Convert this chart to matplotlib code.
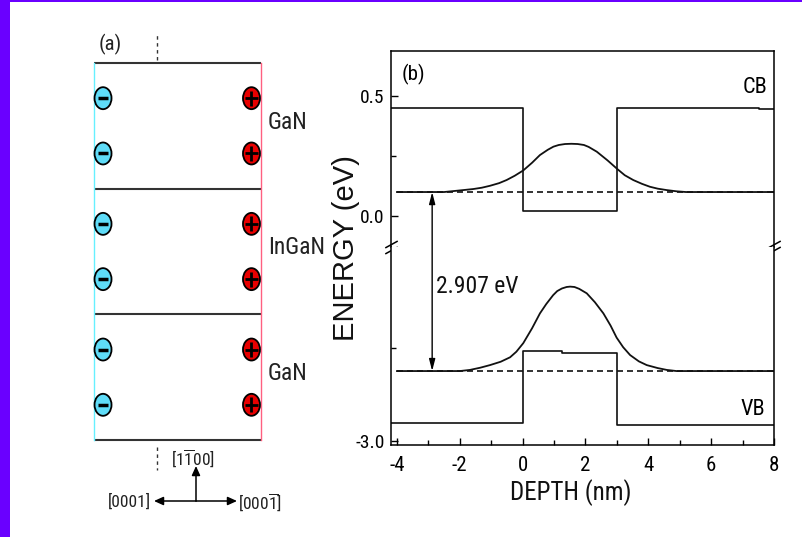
import matplotlib
matplotlib.use('Agg')
import matplotlib.pyplot as plt
from matplotlib.patches import Ellipse, Rectangle, ConnectionPatch, FancyArrowPatch
from matplotlib import font_manager as fm

_names = {f.name for f in fm.fontManager.ttflist}
NARROW = None
for cand in ['Liberation Sans Narrow', 'Arial Narrow', 'Roboto Condensed',
             'DejaVu Sans Condensed', 'Open Sans Condensed', 'Noto Sans Condensed']:
    if cand in _names:
        NARROW = cand
        break
if NARROW is None:
    NARROW = 'Liberation Sans'
    K = 0.84
else:
    K = 1.0
REG = 'Liberation Sans'

plt.rcParams['font.family'] = [NARROW, 'DejaVu Sans']
plt.rcParams['axes.unicode_minus'] = False
plt.rcParams['mathtext.fontset'] = 'custom'
plt.rcParams['mathtext.rm'] = NARROW
plt.rcParams['mathtext.it'] = NARROW

# ---------------- data: panel (a) ----------------
layer_names = ['GaN', 'InGaN', 'GaN']          # top to bottom
layer_bounds = [0, 1, 2, 3]
charge_offsets = [0.28, 0.72]                    # from top of each layer
neg_x = 0.054
pos_x = 0.943
dir_up = '[1$\\overline{1}$00]'
dir_left = '[0001]'
dir_right = '[000$\\overline{1}$]'

# ---------------- data: panel (b) ----------------
depth_ticks = [-4, -2, 0, 2, 4, 6, 8]
cb_depth = [-4.19, 0, 0, 3, 3, 7.52, 7.52, 8]
cb_energy = [0.45, 0.45, 0.022, 0.022, 0.45, 0.45, 0.444, 0.444]
vb_depth = [-4.19, 0, 0, 1.24, 1.24, 3, 3, 8]
vb_energy = [-2.952, -2.952, -2.758, -2.758, -2.763, -2.763, -2.957, -2.957]
cb_ground = 0.10
vb_ground = -2.812
gap_label = '2.907 eV'
gap_x = -2.88

cb_wf_depth = [-4.0, -2.5, -2.2, -1.9, -1.57, -1.3, -1.04, -0.75, -0.51, -0.25, 0.02,
               0.3, 0.55, 0.8, 0.98, 1.15, 1.35, 1.55, 1.75, 1.95, 2.1, 2.36, 2.7, 3.02, 3.25,
               3.52, 3.8, 4.05, 4.3, 4.59, 4.9, 5.2, 8.0]
cb_wf_energy = [0.1, 0.1, 0.104, 0.108, 0.1125, 0.118, 0.126, 0.137, 0.15, 0.168, 0.19,
                0.222, 0.254, 0.276, 0.289, 0.296, 0.3, 0.301, 0.3, 0.296, 0.288, 0.268,
                0.232, 0.195, 0.17, 0.15, 0.134, 0.122, 0.114, 0.108, 0.103, 0.1, 0.1]
vb_wf_depth = [-4.0, -2.0, -1.68, -1.35, -1.04, -0.7, -0.4, -0.2, 0.02, 0.3, 0.55, 0.75,
               0.97, 1.1, 1.25, 1.4, 1.51, 1.65, 1.8, 2.04, 2.3, 2.57, 2.8, 2.99, 3.2,
               3.42, 3.7, 3.95, 4.3, 4.59, 4.9, 8.0]
vb_wf_energy = [-2.812, -2.812, -2.809, -2.803, -2.796, -2.787, -2.775, -2.76, -2.737,
                -2.697, -2.657, -2.632, -2.608, -2.597, -2.590, -2.586, -2.585, -2.586,
                -2.591, -2.603, -2.627, -2.657, -2.69, -2.722, -2.748, -2.769, -2.786,
                -2.796, -2.804, -2.809, -2.812, -2.812]

W, H = 802, 537
fig = plt.figure(figsize=(W / 100, H / 100), dpi=100)
fig.patch.set_facecolor('white')

def fx(px):
    return px / W

def fy(py):
    return 1 - py / H

purple = '#6a00ff'
fig.add_artist(Rectangle((0, 0), fx(10), 1, transform=fig.transFigure, color=purple, lw=0))
fig.add_artist(Rectangle((0, fy(2)), 1, 2 / H, transform=fig.transFigure, color=purple, lw=0))

# ---------------- panel (a) ----------------
axa = fig.add_axes([fx(94), fy(440), fx(261) - fx(94), fy(63) - fy(440)])
axa.set_xlim(0, 1)
axa.set_ylim(0, 3)
axa.axis('off')
for b in layer_bounds:
    axa.plot([0, 1], [b, b], color='#333333', lw=1.5, solid_capstyle='butt', clip_on=False)
axa.plot([0, 0], [0, 3], color='#66f0ff', lw=1.0, clip_on=False)
axa.plot([1, 1], [0, 3], color='#ff6080', lw=1.0, clip_on=False)

ew, eh = 17 / 167, 22 / 125.7
for i, name in enumerate(layer_names):
    top = 3 - i
    for off in charge_offsets:
        y = top - off
        axa.add_patch(Ellipse((neg_x, y), ew, eh, facecolor='#5fdcf8', edgecolor='black',
                              lw=1.3, clip_on=False, zorder=3))
        axa.plot([neg_x - 0.03, neg_x + 0.03], [y, y], color='black', lw=2.5,
                 solid_capstyle='butt', clip_on=False, zorder=4)
        axa.add_patch(Ellipse((pos_x, y), ew, eh, facecolor='#e80000', edgecolor='black',
                              lw=1.3, clip_on=False, zorder=3))
        axa.plot([pos_x - 0.037, pos_x + 0.037], [y, y], color='black', lw=2.0,
                 solid_capstyle='butt', clip_on=False, zorder=4)
        axa.plot([pos_x, pos_x], [y - 0.06, y + 0.06], color='black', lw=2.0,
                 solid_capstyle='butt', clip_on=False, zorder=4)
    axa.text(1.042, top - 0.47, name, fontsize=17 * K, color='#222222', ha='left',
             va='center', clip_on=False)

axa.text(0.096, 3.145, '(a)', fontsize=15 * K, color='#222222', ha='center', va='center')
axa.plot([0.377, 0.377], [3.02, 3.22], color='#333333', lw=1.0, ls=(0, (2.5, 2.5)), clip_on=False)
axa.plot([0.377, 0.377], [-0.056, -0.24], color='#333333', lw=1.0, ls=(0, (2.5, 2.5)), clip_on=False)

# crystal direction arrows (figure coordinates)
ox, oy = fx(196), fy(501)
arrow_kw = dict(arrowstyle='-|>,head_length=0.55,head_width=0.25', color='black', lw=1.1,
                mutation_scale=10, shrinkA=0, shrinkB=0, transform=fig.transFigure)
fig.add_artist(FancyArrowPatch((ox, oy), (fx(154), oy), **arrow_kw))
fig.add_artist(FancyArrowPatch((ox, oy), (fx(237), oy), **arrow_kw))
fig.add_artist(FancyArrowPatch((ox, oy), (ox, fy(466)), **arrow_kw))
fig.text(fx(193), fy(458), dir_up, fontsize=12.5 * K, color='#222222', ha='center', va='center')
fig.text(fx(151), fy(502), dir_left, fontsize=12.5 * K, color='#222222', ha='right', va='center')
fig.text(fx(238), fy(502), dir_right, fontsize=12.5 * K, color='#222222', ha='left', va='center')

# ---------------- panel (b) ----------------
L, R = 391, 774
axt = fig.add_axes([fx(L), fy(247), fx(R) - fx(L), fy(51) - fy(247)])
axb = fig.add_axes([fx(L), fy(445), fx(R) - fx(L), fy(247) - fy(445)])
for ax in (axt, axb):
    ax.set_xlim(-4.19, 8.0)
    for s in ax.spines.values():
        s.set_linewidth(1.1)
    ax.tick_params(which='both', direction='in', labelsize=14 * K, pad=4.5, width=1.0)
    ax.tick_params(which='major', length=5)
    ax.tick_params(which='minor', length=3.5)
    ax.tick_params(top=False, right=False, which='both')
axt.set_ylim(-0.129, 0.6875)
axb.set_ylim(-3.0108, -2.4785)
axt.spines['bottom'].set_visible(False)
axb.spines['top'].set_visible(False)
axt.set_xticks([])
axt.set_yticks([0.0, 0.5])
axt.set_yticklabels(['0.0', '0.5'])
axt.set_yticks([0.25], minor=True)
axb.set_yticks([-3.0])
axb.set_yticklabels(['-3.0'])
axb.set_yticks([-2.75], minor=True)
axb.set_xticks(depth_ticks)
axb.set_xticklabels([str(t) for t in depth_ticks])
axb.set_xticks([-3, -1, 1, 3, 5, 7], minor=True)
axb.tick_params(axis='x', pad=8, labelsize=15 * K)

lc = '#111111'
axt.plot(cb_depth, cb_energy, color=lc, lw=1.2)
axb.plot(vb_depth, vb_energy, color=lc, lw=1.2)
axt.plot([-4.0, 8.0], [cb_ground, cb_ground], color=lc, lw=1.2, ls=(0, (3.6, 2.4)))
axb.plot([-4.0, 8.0], [vb_ground, vb_ground], color=lc, lw=1.2, ls=(0, (3.6, 2.4)))
axt.plot(cb_wf_depth, cb_wf_energy, color=lc, lw=1.3)
axb.plot(vb_wf_depth, vb_wf_energy, color=lc, lw=1.3)

con = ConnectionPatch(xyA=(gap_x, cb_ground), coordsA=axt.transData,
                      xyB=(gap_x, vb_ground), coordsB=axb.transData,
                      arrowstyle='<|-|>,head_length=0.7,head_width=0.18', mutation_scale=10,
                      color='black', lw=1.0, shrinkA=0, shrinkB=0)
fig.add_artist(con)
axb.text(-2.76, -2.586, gap_label, fontsize=17 * K, color='#111111', ha='left', va='center')

axt.text(0.0587, 0.878, '(b)', transform=axt.transAxes, fontsize=15 * K, ha='center', va='center')
axt.text(0.984, 0.816, 'CB', transform=axt.transAxes, fontsize=16 * K, ha='right', va='center')
axb.text(0.977, 0.177, 'VB', transform=axb.transAxes, fontsize=16 * K, ha='right', va='center')

# axis-break marks
brk = [(-1, -0.55), (1, 0.55)]
for xa in (0, 1):
    for dy in (0.014, -0.014):
        axt.plot([xa], [dy], transform=axt.transAxes, marker=brk, markersize=9,
                 ls='none', color='black', mec='black', mew=1.1, clip_on=False)

fig.text(fx(346), fy(248), 'ENERGY (eV)', rotation=90, fontsize=21, family=REG,
         ha='center', va='center', color='#111111')
fig.text(fx(571), fy(493), 'DEPTH (nm)', fontsize=18 * K, ha='center', va='center',
         color='#111111')

fig.savefig('out.png', dpi=100)
